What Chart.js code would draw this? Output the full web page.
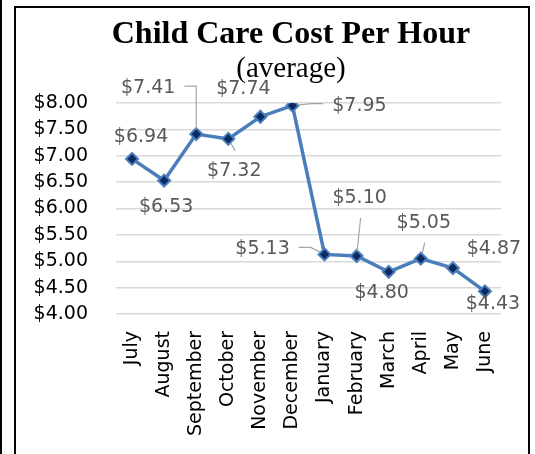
<!DOCTYPE html>
<html>
<head>
<meta charset="utf-8">
<script src="https://cdn.jsdelivr.net/npm/chart.js@4.4.1/dist/chart.umd.min.js"></script>
<style>
  html, body { margin: 0; padding: 0; background: #fff; }
  body { width: 535px; height: 454px; position: relative; overflow: hidden; }
  .edge { position: absolute; left: 0; top: 0; width: 2px; height: 454px; background: #000; }
  .frame { position: absolute; left: 14px; top: 6px; width: 512px; height: 460px; border: 2px solid #000; border-bottom: none; }
  #costChart { position: absolute; left: 0; top: 0; }
</style>
</head>
<body>
<div class="edge"></div>
<div class="frame"></div>
<canvas id="costChart" width="535" height="454"></canvas>
<script>
// chart data
var months = ['July', 'August', 'September', 'October', 'November', 'December',
              'January', 'February', 'March', 'April', 'May', 'June'];
var avgCost = [6.94, 6.53, 7.41, 7.32, 7.74, 7.95, 5.13, 5.10, 4.80, 5.05, 4.87, 4.43];
var yTicks = [4.00, 4.50, 5.00, 5.50, 6.00, 6.50, 7.00, 7.50, 8.00];

var titleText = 'Child Care Cost Per Hour';
var subtitleText = '(average)';

// where each value label sits relative to its point, and what leader line it gets
var labelOffsets = [[9, -22], [2, 27], [-48, -46], [6, 32], [-17, -28], [67, 0],
                    [-62, -5], [3, -58], [-7, 21], [3, -36], [41, -19], [8, 13]];
var leaderType = ['none', 'none', 'side', 'vert', 'none', 'side',
                  'side', 'vert', 'none', 'vert', 'none', 'none'];

var mainFont = '"DejaVu Sans", sans-serif';

function money(v) {
    return '$' + Number(v).toFixed(2);
}

// title + subtitle, centred over the Excel-style plot
var titlePlugin = {
    id: 'titleText',
    afterDraw: function (chart) {
        var ctx = chart.ctx;
        ctx.save();
        ctx.fillStyle = '#000';
        ctx.textAlign = 'center';
        ctx.textBaseline = 'alphabetic';
        ctx.font = 'bold 32px "Liberation Serif", serif';
        ctx.fillText(titleText, 291, 43);
        ctx.font = '29px "Liberation Serif", serif';
        ctx.fillText(subtitleText, 291, 77);
        ctx.restore();
    }
};

// value labels with grey leader lines
var labelPlugin = {
    id: 'valueLabels',
    afterDatasetsDraw: function (chart) {
        var ctx = chart.ctx;
        var meta = chart.getDatasetMeta(0);
        ctx.save();
        ctx.font = '19px ' + mainFont;
        ctx.textAlign = 'center';
        ctx.textBaseline = 'middle';
        meta.data.forEach(function (pt, i) {
            var txt = money(avgCost[i]);
            var cx = pt.x + labelOffsets[i][0];
            var cy = pt.y + labelOffsets[i][1];
            var w = ctx.measureText(txt).width;
            var type = leaderType[i];
            ctx.strokeStyle = '#a6a6a6';
            ctx.lineWidth = 1.2;
            if (type === 'side') {
                var dir = pt.x > cx ? 1 : -1;
                var sx = cx + dir * (w / 2 + 9);
                var sy = cy - 2;
                var mx = sx + dir * 12;
                if ((dir > 0 && mx > pt.x) || (dir < 0 && mx < pt.x)) mx = pt.x;
                var dx = pt.x - mx, dy = pt.y - sy;
                var len = Math.sqrt(dx * dx + dy * dy) || 1;
                ctx.beginPath();
                ctx.moveTo(sx, sy);
                ctx.lineTo(mx, sy);
                ctx.lineTo(pt.x - dx / len * 5, pt.y - dy / len * 5);
                ctx.stroke();
            } else if (type === 'vert') {
                var vdir = pt.y > cy ? 1 : -1;
                var vx = cx + 1, vy = cy + vdir * 20;
                var ddx = pt.x - vx, ddy = pt.y - vy;
                var l2 = Math.sqrt(ddx * ddx + ddy * ddy) || 1;
                ctx.beginPath();
                ctx.moveTo(vx, vy);
                ctx.lineTo(pt.x - ddx / l2 * 5, pt.y - ddy / l2 * 5);
                ctx.stroke();
            }
            ctx.fillStyle = '#595959';
            ctx.fillText(txt, cx, cy);
        });
        ctx.restore();
    }
};

var ctx = document.getElementById('costChart').getContext('2d');
var myChart = new Chart(ctx, {
    type: 'line',
    data: {
        labels: months,
        datasets: [{
            data: avgCost,
            borderColor: '#4a7ebb',
            borderWidth: 3.5,
            tension: 0,
            pointStyle: 'rectRot',
            pointRadius: 6,
            pointBorderWidth: 2,
            pointBackgroundColor: '#0c2b62',
            pointBorderColor: '#4a7ebb'
        }]
    },
    options: {
        responsive: false,
        devicePixelRatio: 1,
        animation: false,
        events: [],
        layout: {
            padding: { top: 103, right: 34, bottom: 0, left: 0 }
        },
        plugins: {
            legend: { display: false },
            tooltip: { enabled: false },
            title: { display: false }
        },
        scales: {
            x: {
                offset: true,
                grid: { display: false },
                border: { display: false },
                ticks: {
                    autoSkip: false,
                    minRotation: 90,
                    maxRotation: 90,
                    padding: 9,
                    color: '#000',
                    font: { family: mainFont, size: 19 }
                },
                afterFit: function (scale) {
                    scale.height = 140;
                }
            },
            y: {
                min: yTicks[0],
                max: yTicks[yTicks.length - 1],
                afterBuildTicks: function (scale) {
                    scale.ticks = yTicks.map(function (v) { return { value: v }; });
                },
                grid: {
                    color: '#d9d9d9',
                    lineWidth: 1.5,
                    drawTicks: false
                },
                border: { display: false },
                ticks: {
                    padding: 28,
                    color: '#000',
                    font: { family: mainFont, size: 19 },
                    callback: function (value) {
                        return money(value); // dollar format like the sheet
                    }
                },
                afterFit: function (scale) {
                    scale.width = 116;
                }
            }
        }
    },
    plugins: [labelPlugin, titlePlugin]
});
</script>
</body>
</html>
